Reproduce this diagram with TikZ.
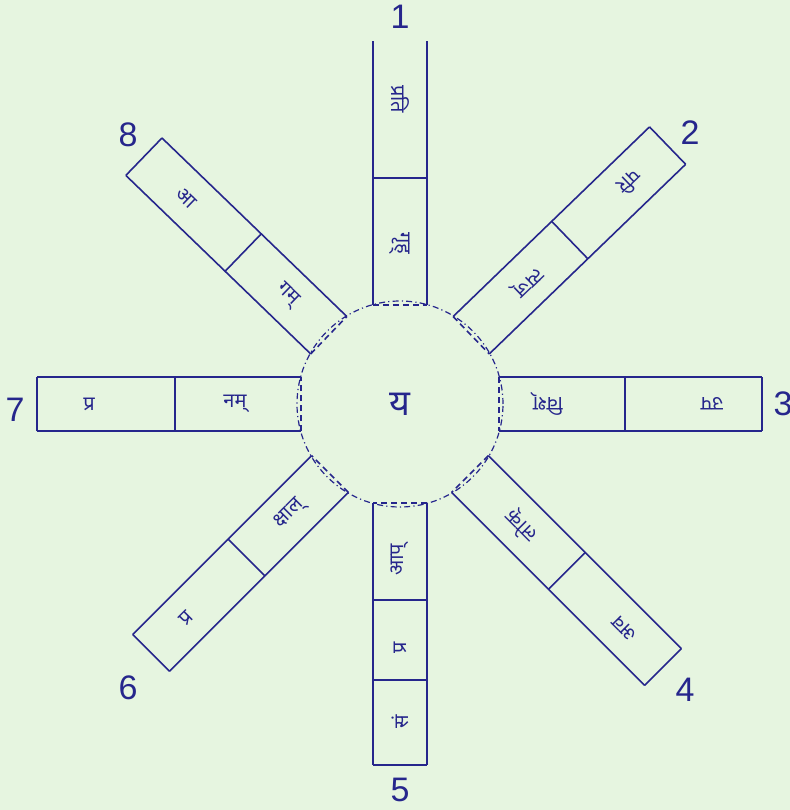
\documentclass[tikz,border=0pt]{standalone}
\usepackage{fontspec}
\setmainfont{Liberation Sans}
\newfontfamily\devfont[Script=Devanagari]{Noto Sans}
\definecolor{ink}{RGB}{38,38,140}
\definecolor{paper}{RGB}{230,245,224}

\begin{document}
\begin{tikzpicture}[x=0.5pt, y=0.5pt,
  edge/.style={ink, line width=0.8pt},
  bar/.style={ink, line width=1.3pt},
  rim/.style={ink, line width=0.6pt, dash pattern=on 3pt off 1.6pt on 0.6pt off 1.6pt},
  openend/.style={ink, line width=0.8pt, dash pattern=on 3pt off 2pt},
  part/.style={text=ink, font=\devfont\bfseries\fontsize{10}{11}\selectfont, inner sep=0pt},
  num/.style={text=ink, font=\fontsize{17}{18}\selectfont, inner sep=0pt}
]
  \fill[paper] (-400,-406) rectangle (390,404);
  \useasboundingbox (-400,-406) rectangle (390,404);

  \draw[rim] (0,0) circle (103);
  \node[text=ink, font=\devfont\bfseries\fontsize{18}{20}\selectfont] (ya) at (0,0) {य};

  \foreach \ang/\w/\len/\cut in {0/27/362/225, 90/27/363/226, 180/27/363/225, 270/27/361/196,
                                44/26/372/236, 136/26/356/218, 225/26/352/217, 315/26/372/236} {
    \begin{scope}[rotate=\ang]
      \draw[edge] (99,\w) -- (\len,\w);
      \draw[edge] (99,-\w) -- (\len,-\w);
      \draw[openend] (99,\w) -- (99,-\w);
      \draw[edge] (\cut,\w) -- (\cut,-\w);
    \end{scope}
  }
  \foreach \ang/\w/\len in {0/27/362, 180/27/363, 270/27/361,
                            44/26/372, 136/26/356, 225/26/352, 315/26/372}
    \draw[edge, rotate=\ang] (\len,\w) -- (\len,-\w);
  \draw[bar] (-27,226) -- (27,226);
  \draw[bar] (-27,-276) -- (27,-276);

  \foreach \ang/\ri/\ro/\inner/\outer in {90/161/305/गृह्/प्रति, 44/177/319/त्यज्/परि,
      0/148/312/विश्/उप, 315/172/318/लोक्/अव, 225/156/303/क्षाल्/प्र,
      180/165/311/नम्/प्र, 136/157/297/गम्/आ} {
    \node[part, rotate=\ang+180] (in-\ang) at (\ang:\ri) {\inner};
    \node[part, rotate=\ang+180] (out-\ang) at (\ang:\ro) {\outer};
  }
  \node[part, rotate=90] (in-270) at (270:156) {आप्};
  \node[part, rotate=90] (mid-270) at (270:244) {प्र};
  \node[part, rotate=90] (out-270) at (270:318) {सं};

  \node[num] (n1) at (0,387) {1};
  \node[num] (n2) at (290,271) {2};
  \node[num] (n3) at (383,0) {3};
  \node[num] (n4) at (285,-286) {4};
  \node[num] (n5) at (0,-386) {5};
  \node[num] (n6) at (-272,-284) {6};
  \node[num] (n7) at (-385,-6) {7};
  \node[num] (n8) at (-272,269) {8};
\end{tikzpicture}
\end{document}
